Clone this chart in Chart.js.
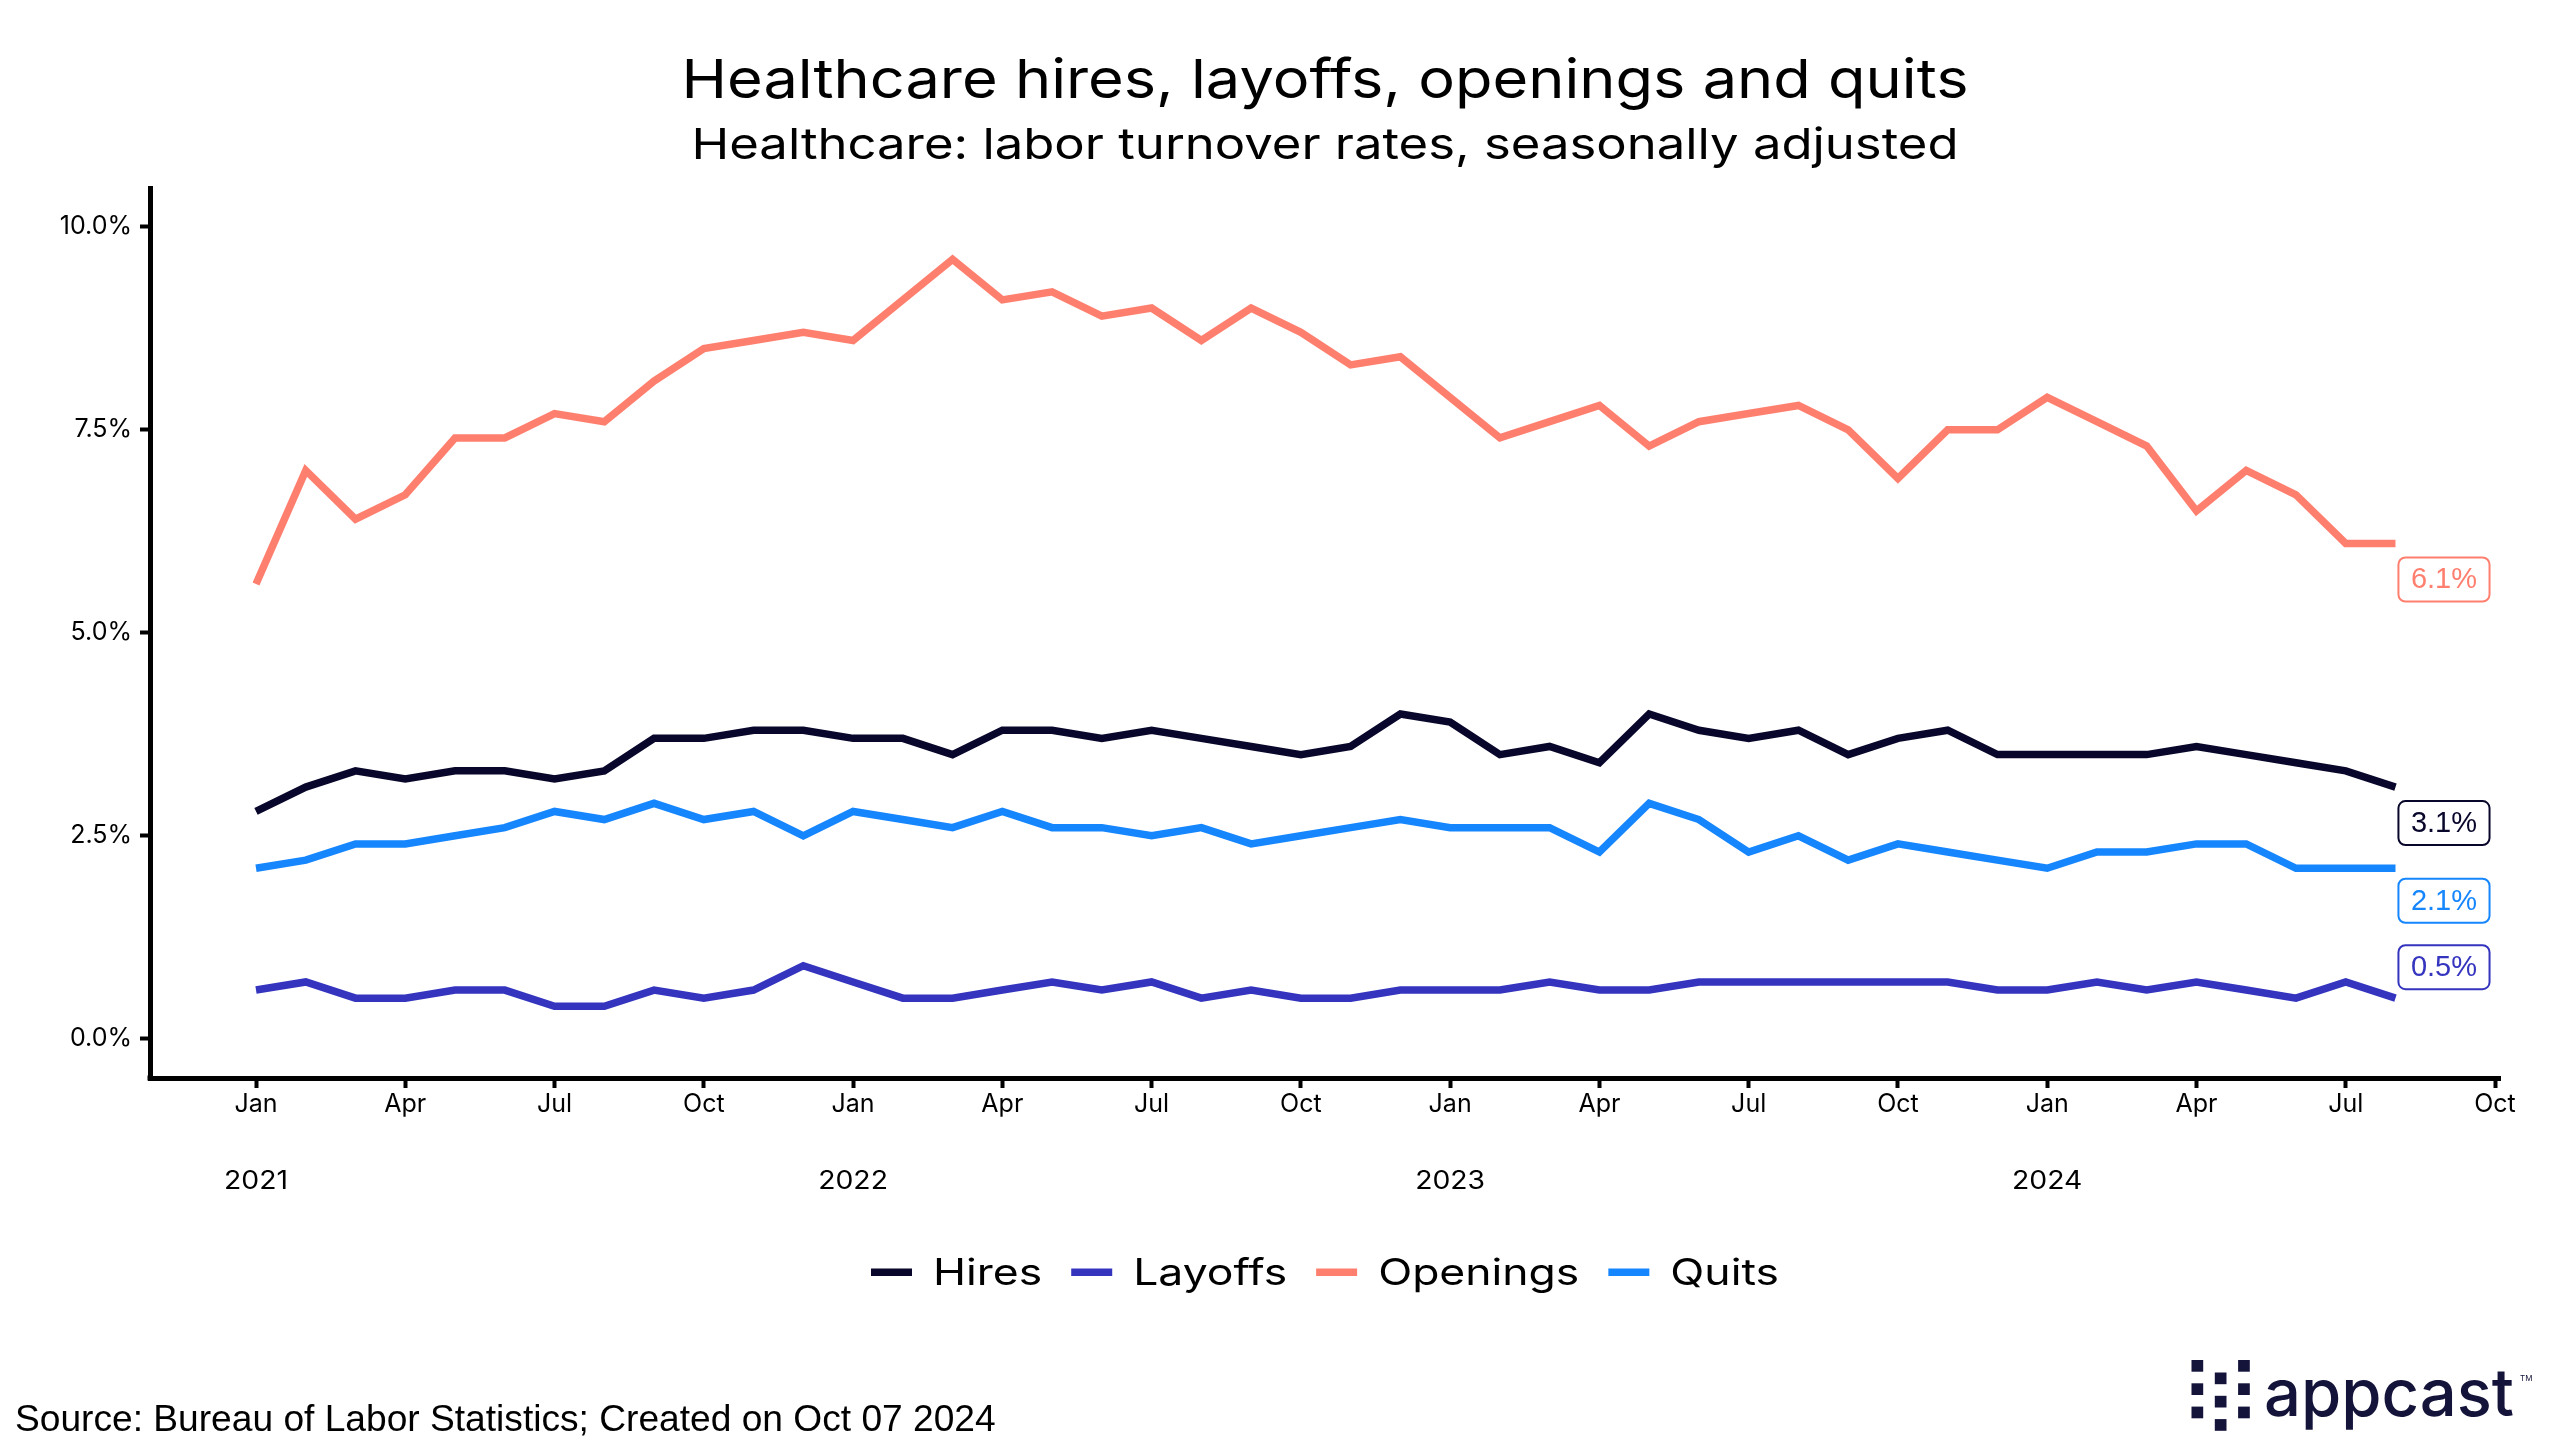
<!DOCTYPE html>
<html>
<head>
<meta charset="utf-8">
<script src="https://cdn.jsdelivr.net/npm/chart.js@4.4.1/dist/chart.umd.min.js"></script>
<style>
html,body{margin:0;padding:0;background:#fff;}
#wrap{width:2560px;height:1455px;position:relative;overflow:hidden;}
canvas{display:block;}
</style>
</head>
<body>
<div id="wrap"><canvas id="c" width="2560" height="1455"></canvas></div>
<script>
// ---------- DATA ----------
const periods = [
  '2021-01','2021-02','2021-03','2021-04','2021-05','2021-06','2021-07','2021-08','2021-09','2021-10','2021-11','2021-12',
  '2022-01','2022-02','2022-03','2022-04','2022-05','2022-06','2022-07','2022-08','2022-09','2022-10','2022-11','2022-12',
  '2023-01','2023-02','2023-03','2023-04','2023-05','2023-06','2023-07','2023-08','2023-09','2023-10','2023-11','2023-12',
  '2024-01','2024-02','2024-03','2024-04','2024-05','2024-06','2024-07','2024-08'
];
const seriesNames = ['Hires', 'Layoffs', 'Openings', 'Quits'];
const hires = [2.8,3.1,3.3,3.2,3.3,3.3,3.2,3.3,3.7,3.7,3.8,3.8, 3.7,3.7,3.5,3.8,3.8,3.7,3.8,3.7,3.6,3.5,3.6,4.0, 3.9,3.5,3.6,3.4,4.0,3.8,3.7,3.8,3.5,3.7,3.8,3.5, 3.5,3.5,3.5,3.6,3.5,3.4,3.3,3.1];
const layoffs = [0.6,0.7,0.5,0.5,0.6,0.6,0.4,0.4,0.6,0.5,0.6,0.9, 0.7,0.5,0.5,0.6,0.7,0.6,0.7,0.5,0.6,0.5,0.5,0.6, 0.6,0.6,0.7,0.6,0.6,0.7,0.7,0.7,0.7,0.7,0.7,0.6, 0.6,0.7,0.6,0.7,0.6,0.5,0.7,0.5];
const openings = [5.6,7.0,6.4,6.7,7.4,7.4,7.7,7.6,8.1,8.5,8.6,8.7, 8.6,9.1,9.6,9.1,9.2,8.9,9.0,8.6,9.0,8.7,8.3,8.4, 7.9,7.4,7.6,7.8,7.3,7.6,7.7,7.8,7.5,6.9,7.5,7.5, 7.9,7.6,7.3,6.5,7.0,6.7,6.1,6.1];
const quits = [2.1,2.2,2.4,2.4,2.5,2.6,2.8,2.7,2.9,2.7,2.8,2.5, 2.8,2.7,2.6,2.8,2.6,2.6,2.5,2.6,2.4,2.5,2.6,2.7, 2.6,2.6,2.6,2.3,2.9,2.7,2.3,2.5,2.2,2.4,2.3,2.2, 2.1,2.3,2.3,2.4,2.4,2.1,2.1,2.1];
const xTickDates = ['2021-01','2021-04','2021-07','2021-10','2022-01','2022-04','2022-07','2022-10','2023-01','2023-04','2023-07','2023-10','2024-01','2024-04','2024-07','2024-10'];
const xTickLabels = ['Jan','Apr','Jul','Oct','Jan','Apr','Jul','Oct','Jan','Apr','Jul','Oct','Jan','Apr','Jul','Oct'];
const yearLabels = ['2021','2022','2023','2024'];
const yTicks = [0, 2.5, 5, 7.5, 10];
const titleText = 'Healthcare hires, layoffs, openings and quits';
const subtitleText = 'Healthcare: labor turnover rates, seasonally adjusted';
const sourceText = 'Source: Bureau of Labor Statistics; Created on Oct 07 2024';

// ---------- STYLE ----------
const seriesColors = ['#08072b', '#3434bf', '#ff7f6f', '#1686ff'];
const endLabelOffsets = [36, -31, 36, 32.5]; // px shift of end-label boxes (repel)
const seriesValues = [hires, layoffs, openings, quits];

function monthIndex(s) {
  const [y, m] = s.split('-').map(Number);
  return (y - 2021) * 12 + (m - 1);
}

const X_AXIS_H = 120;
const PLOT_BOTTOM = 1078;

// draw text with horizontal stretch so that its width equals target
function drawStretched(ctx, text, x, y, font, sx, align, color) {
  ctx.save();
  ctx.font = font;
  ctx.fillStyle = color;
  ctx.textAlign = align;
  ctx.textBaseline = 'alphabetic';
  ctx.translate(x, y);
  ctx.scale(sx, 1);
  ctx.fillText(text, 0, 0);
  ctx.restore();
}
function widthOf(ctx, text, font) { ctx.font = font; return ctx.measureText(text).width; }

const overlay = {
  id: 'overlay',
  afterDraw(chart) {
    const ctx = chart.ctx;
    const ca = chart.chartArea;
    const cx = (ca.left + ca.right) / 2;
    const xs = chart.scales.x, ys = chart.scales.y;
    ctx.save();
    // corner fill of axes
    ctx.fillStyle = '#000';
    ctx.fillRect(ca.left - 2.5, ca.bottom - 2.5, 5, 5);

    // Title & subtitle
    const tf = '400 54px Inter';
    drawStretched(ctx, titleText, cx, 98, tf, 1287 / widthOf(ctx, titleText, tf), 'center', '#000');
    const sf = '400 43px Inter';
    drawStretched(ctx, subtitleText, cx, 159, sf, 1267 / widthOf(ctx, subtitleText, sf), 'center', '#000');

    // Year labels
    const yf = '400 25px Inter';
    const ysx = 64 / widthOf(ctx, '2021', yf);
    yearLabels.forEach(y => {
      const px = xs.getPixelForValue(monthIndex(y + '-01'));
      drawStretched(ctx, y, px, 1189, yf, ysx, 'center', '#000');
    });

    // Legend
    const lf = '400 37px Inter';
    const sw = 41, gapT = 21, gapI = 29;
    const items = chart.data.datasets.map(d => ({label: d.label, color: d.borderColor, w: widthOf(ctx, d.label, lf)}));
    const rawText = items.reduce((a, it) => a + it.w, 0);
    const lsx = 573 / rawText;
    let total = items.reduce((a, it) => a + sw + gapT + it.w * lsx, 0) + gapI * (items.length - 1);
    let lx = cx - total / 2;
    items.forEach(it => {
      ctx.fillStyle = it.color;
      ctx.fillRect(lx, 1268.5, sw, 7.5);
      drawStretched(ctx, it.label, lx + sw + gapT, 1285, lf, lsx, 'left', '#000');
      lx += sw + gapT + it.w * lsx + gapI;
    });

    // End labels
    ctx.font = '400 29px "Liberation Sans", Arial, sans-serif';
    chart.data.datasets.forEach((d, k) => {
      const last = d.data[d.data.length - 1];
      const px = xs.getPixelForValue(last.x);
      const py = ys.getPixelForValue(last.y);
      const txt = last.y.toFixed(1) + '%';
      const tw = ctx.measureText(txt).width;
      const bw = tw + 25, bh = 44;
      const bx = px + 48.5 - bw / 2, by = py + endLabelOffsets[k] - bh / 2;
      ctx.beginPath();
      ctx.roundRect(bx, by, bw, bh, 7);
      ctx.fillStyle = '#fff';
      ctx.fill();
      ctx.lineWidth = 2;
      ctx.strokeStyle = d.borderColor;
      ctx.stroke();
      ctx.fillStyle = d.borderColor;
      ctx.textAlign = 'center';
      ctx.textBaseline = 'middle';
      ctx.fillText(txt, px + 48.5, py + endLabelOffsets[k] + 1);
    });

    // Source
    ctx.textBaseline = 'alphabetic';
    ctx.textAlign = 'left';
    const srcFont0 = '400 36px "Liberation Sans", Arial, sans-serif';
    const ssize = 36 * 981 / widthOf(ctx, sourceText, srcFont0);
    ctx.font = `400 ${ssize}px "Liberation Sans", Arial, sans-serif`;
    ctx.fillStyle = '#000';
    ctx.fillText(sourceText, 15, 1431);

    // Logo
    const navy = '#14133a';
    ctx.fillStyle = navy;
    const sq = 11.7, pitch = 23.3;
    const colX = [2191.5, 2214.8, 2238.1];
    [0, 2].forEach(c => { for (let r = 0; r < 3; r++) ctx.fillRect(colX[c], 1360 + r * pitch, sq, sq); });
    for (let r = 0; r < 3; r++) ctx.fillRect(colX[1], 1372.5 + r * pitch, sq, sq);
    const af = '500 66px Inter';
    drawStretched(ctx, 'appcast', 2264, 1416, af, 250 / widthOf(ctx, 'appcast', af), 'left', navy);
    ctx.font = '400 8px Inter';
    ctx.fillStyle = navy;
    ctx.fillText('TM', 2520, 1381);
    ctx.restore();
  }
};

const datasets = seriesNames.map((name, k) => ({
  label: name,
  data: seriesValues[k].map((v, i) => ({x: monthIndex(periods[i]), y: v})),
  borderColor: seriesColors[k],
  backgroundColor: seriesColors[k],
  borderWidth: 7.5,
  pointRadius: 0,
  pointHoverRadius: 0,
  tension: 0,
  fill: false,
  borderJoinStyle: 'miter',
  borderCapStyle: 'butt'
}));

const pxPerMonth = (2495 - 256) / 45;
const xMin = -(256 - 150) / pxPerMonth;
const xMax = 45 + (2500 - 2495) / pxPerMonth;

new Chart(document.getElementById('c'), {
  type: 'line',
  data: {datasets},
  plugins: [overlay],
  options: {
    responsive: false,
    animation: false,
    devicePixelRatio: 1,
    layout: {padding: {left: 0, top: 188, right: 60, bottom: 1455 - PLOT_BOTTOM - X_AXIS_H}},
    plugins: {legend: {display: false}, title: {display: false}, tooltip: {enabled: false}},
    scales: {
      x: {
        type: 'linear',
        min: xMin,
        max: xMax,
        afterFit(s) { s.height = X_AXIS_H; },
        afterBuildTicks(s) { s.ticks = xTickDates.map(d => ({value: monthIndex(d)})); },
        ticks: {
          autoSkip: false, maxRotation: 0, minRotation: 0,
          font: {family: 'Inter', size: 25, weight: '400'}, color: '#000', padding: 1,
          callback: (v, i) => xTickLabels[i]
        },
        grid: {drawOnChartArea: false, drawTicks: true, tickLength: 10, tickWidth: 4, tickColor: '#000'},
        border: {display: true, color: '#000', width: 5}
      },
      y: {
        type: 'linear',
        min: -0.483,
        max: 10.478,
        afterFit(s) { s.width = 150; },
        afterBuildTicks(s) { s.ticks = yTicks.map(v => ({value: v})); },
        ticks: {
          font: {family: 'Inter', size: 25, weight: '400'}, color: '#000', padding: 8,
          callback: (v) => Number(v).toFixed(1) + '%'
        },
        grid: {drawOnChartArea: false, drawTicks: true, tickLength: 10, tickWidth: 4, tickColor: '#000'},
        border: {display: true, color: '#000', width: 5}
      }
    }
  }
});
</script>
</body>
</html>
